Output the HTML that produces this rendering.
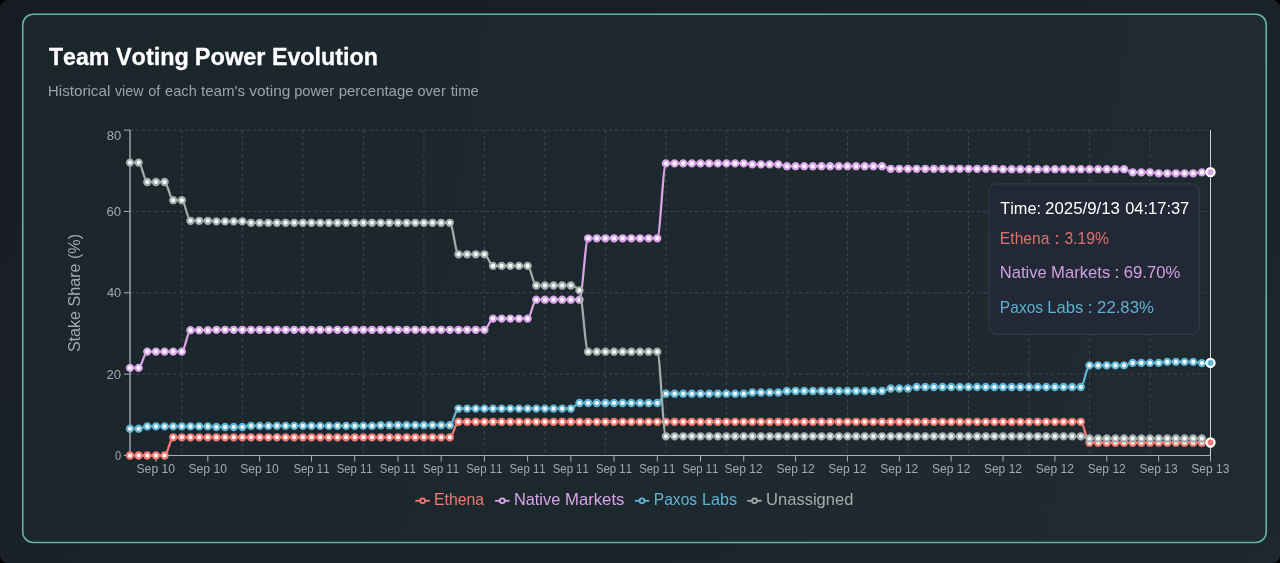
<!DOCTYPE html>
<html lang="en"><head><meta charset="utf-8"><title>Team Voting Power Evolution</title>
<style>html,body{margin:0;padding:0;background:#181f25;overflow:hidden}body{width:1280px;height:563px;position:relative;font-family:"Liberation Sans",sans-serif}svg{display:block;position:absolute;left:0;top:0;will-change:transform}text{font-family:"Liberation Sans",sans-serif;font-kerning:none}</style></head><body>
<svg width="1280" height="563" viewBox="0 0 1280 563">
<defs><linearGradient id="gOut" gradientUnits="userSpaceOnUse" x1="0" y1="0" x2="516" y2="965"><stop offset="0" stop-color="#171c22"/><stop offset="1" stop-color="#1d272e"/></linearGradient><linearGradient id="gCard" gradientUnits="userSpaceOnUse" x1="22" y1="0" x2="1267" y2="200"><stop offset="0" stop-color="#1b262b"/><stop offset="1" stop-color="#1f2b31"/></linearGradient></defs>
<rect x="0" y="0" width="1280" height="563" fill="url(#gOut)"/>
<path d="M0,0H1280V563H0Z M7.5,0H1272.5A7.5,7.5,0,0,1,1280,7.5V555.5A7.5,7.5,0,0,1,1272.5,563H7.5A7.5,7.5,0,0,1,0,555.5V7.5A7.5,7.5,0,0,1,7.5,0Z" fill="#000" fill-rule="evenodd"/>
<rect x="22.75" y="14.25" width="1243.5" height="528.25" rx="10.5" ry="10.5" fill="url(#gCard)" stroke="#60b5a5" stroke-width="1.6"/>
<g font-size="24.6" font-weight="700" fill="#ffffff" stroke="#ffffff" stroke-width="0.3"><text x="48.94" y="65" textLength="60.44" lengthAdjust="spacingAndGlyphs">Team</text><text x="115.99" y="65" textLength="72.83" lengthAdjust="spacingAndGlyphs">Voting</text><text x="194.77" y="65" textLength="70.73" lengthAdjust="spacingAndGlyphs">Power</text><text x="271.89" y="65" textLength="106.00" lengthAdjust="spacingAndGlyphs">Evolution</text></g>
<g font-size="14.4" fill="#9aa3ad"><text x="47.80" y="95.5" textLength="62.46" lengthAdjust="spacingAndGlyphs">Historical</text><text x="115.00" y="95.5" textLength="28.41" lengthAdjust="spacingAndGlyphs">view</text><text x="148.24" y="95.5" textLength="12.09" lengthAdjust="spacingAndGlyphs">of</text><text x="165.03" y="95.5" textLength="31.77" lengthAdjust="spacingAndGlyphs">each</text><text x="201.02" y="95.5" textLength="43.97" lengthAdjust="spacingAndGlyphs">team&#39;s</text><text x="249.20" y="95.5" textLength="41.15" lengthAdjust="spacingAndGlyphs">voting</text><text x="294.21" y="95.5" textLength="39.89" lengthAdjust="spacingAndGlyphs">power</text><text x="338.68" y="95.5" textLength="74.93" lengthAdjust="spacingAndGlyphs">percentage</text><text x="417.54" y="95.5" textLength="28.25" lengthAdjust="spacingAndGlyphs">over</text><text x="450.72" y="95.5" textLength="28.19" lengthAdjust="spacingAndGlyphs">time</text></g>
<g stroke="#3e4756" stroke-width="1" stroke-dasharray="3.07 3.07" fill="none">
<line x1="130.0" y1="455.50" x2="1210.5" y2="455.50"/>
<line x1="130.0" y1="374.15" x2="1210.5" y2="374.15"/>
<line x1="130.0" y1="292.80" x2="1210.5" y2="292.80"/>
<line x1="130.0" y1="211.45" x2="1210.5" y2="211.45"/>
<line x1="130.0" y1="130.10" x2="1210.5" y2="130.10"/>
<line x1="181.86" y1="130.1" x2="181.86" y2="455.5"/>
<line x1="242.37" y1="130.1" x2="242.37" y2="455.5"/>
<line x1="302.88" y1="130.1" x2="302.88" y2="455.5"/>
<line x1="363.39" y1="130.1" x2="363.39" y2="455.5"/>
<line x1="423.90" y1="130.1" x2="423.90" y2="455.5"/>
<line x1="484.40" y1="130.1" x2="484.40" y2="455.5"/>
<line x1="544.91" y1="130.1" x2="544.91" y2="455.5"/>
<line x1="605.42" y1="130.1" x2="605.42" y2="455.5"/>
<line x1="665.93" y1="130.1" x2="665.93" y2="455.5"/>
<line x1="726.44" y1="130.1" x2="726.44" y2="455.5"/>
<line x1="786.94" y1="130.1" x2="786.94" y2="455.5"/>
<line x1="847.45" y1="130.1" x2="847.45" y2="455.5"/>
<line x1="907.96" y1="130.1" x2="907.96" y2="455.5"/>
<line x1="968.47" y1="130.1" x2="968.47" y2="455.5"/>
<line x1="1028.98" y1="130.1" x2="1028.98" y2="455.5"/>
<line x1="1089.48" y1="130.1" x2="1089.48" y2="455.5"/>
<line x1="1149.99" y1="130.1" x2="1149.99" y2="455.5"/>
<line x1="1210.50" y1="130.1" x2="1210.50" y2="455.5"/>
</g>
<g stroke="#a9b0b4" stroke-width="1" fill="none">
<line x1="130.0" y1="455.5" x2="1210.5" y2="455.5"/>
<line x1="130.0" y1="130.1" x2="130.0" y2="455.5" stroke-width="1.35"/>
<line x1="155.93" y1="455.5" x2="155.93" y2="461.65"/>
<line x1="207.80" y1="455.5" x2="207.80" y2="461.65"/>
<line x1="259.66" y1="455.5" x2="259.66" y2="461.65"/>
<line x1="311.52" y1="455.5" x2="311.52" y2="461.65"/>
<line x1="354.74" y1="455.5" x2="354.74" y2="461.65"/>
<line x1="397.96" y1="455.5" x2="397.96" y2="461.65"/>
<line x1="441.18" y1="455.5" x2="441.18" y2="461.65"/>
<line x1="484.40" y1="455.5" x2="484.40" y2="461.65"/>
<line x1="527.62" y1="455.5" x2="527.62" y2="461.65"/>
<line x1="570.84" y1="455.5" x2="570.84" y2="461.65"/>
<line x1="614.06" y1="455.5" x2="614.06" y2="461.65"/>
<line x1="657.28" y1="455.5" x2="657.28" y2="461.65"/>
<line x1="700.50" y1="455.5" x2="700.50" y2="461.65"/>
<line x1="743.72" y1="455.5" x2="743.72" y2="461.65"/>
<line x1="795.59" y1="455.5" x2="795.59" y2="461.65"/>
<line x1="847.45" y1="455.5" x2="847.45" y2="461.65"/>
<line x1="899.32" y1="455.5" x2="899.32" y2="461.65"/>
<line x1="951.18" y1="455.5" x2="951.18" y2="461.65"/>
<line x1="1003.04" y1="455.5" x2="1003.04" y2="461.65"/>
<line x1="1054.91" y1="455.5" x2="1054.91" y2="461.65"/>
<line x1="1106.77" y1="455.5" x2="1106.77" y2="461.65"/>
<line x1="1158.64" y1="455.5" x2="1158.64" y2="461.65"/>
<line x1="1210.50" y1="455.5" x2="1210.50" y2="461.65"/>
<line x1="123.85" y1="455.50" x2="130.0" y2="455.50"/>
<line x1="123.85" y1="374.15" x2="130.0" y2="374.15"/>
<line x1="123.85" y1="292.80" x2="130.0" y2="292.80"/>
<line x1="123.85" y1="211.45" x2="130.0" y2="211.45"/>
<line x1="123.85" y1="130.10" x2="130.0" y2="130.10"/>
</g>
<g font-size="12.3" fill="#a2a9ae">
<text x="136.53" y="472.8" textLength="38.53" lengthAdjust="spacingAndGlyphs">Sep 10</text>
<text x="188.39" y="472.8" textLength="38.53" lengthAdjust="spacingAndGlyphs">Sep 10</text>
<text x="240.26" y="472.8" textLength="38.53" lengthAdjust="spacingAndGlyphs">Sep 10</text>
<text x="293.41" y="472.8" textLength="36.07" lengthAdjust="spacingAndGlyphs">Sep 11</text>
<text x="336.63" y="472.8" textLength="36.07" lengthAdjust="spacingAndGlyphs">Sep 11</text>
<text x="379.85" y="472.8" textLength="36.07" lengthAdjust="spacingAndGlyphs">Sep 11</text>
<text x="423.07" y="472.8" textLength="36.07" lengthAdjust="spacingAndGlyphs">Sep 11</text>
<text x="466.29" y="472.8" textLength="36.07" lengthAdjust="spacingAndGlyphs">Sep 11</text>
<text x="509.51" y="472.8" textLength="36.07" lengthAdjust="spacingAndGlyphs">Sep 11</text>
<text x="552.73" y="472.8" textLength="36.07" lengthAdjust="spacingAndGlyphs">Sep 11</text>
<text x="595.95" y="472.8" textLength="36.07" lengthAdjust="spacingAndGlyphs">Sep 11</text>
<text x="639.17" y="472.8" textLength="36.07" lengthAdjust="spacingAndGlyphs">Sep 11</text>
<text x="682.39" y="472.8" textLength="36.07" lengthAdjust="spacingAndGlyphs">Sep 11</text>
<text x="724.58" y="472.8" textLength="38.15" lengthAdjust="spacingAndGlyphs">Sep 12</text>
<text x="776.44" y="472.8" textLength="38.15" lengthAdjust="spacingAndGlyphs">Sep 12</text>
<text x="828.31" y="472.8" textLength="38.15" lengthAdjust="spacingAndGlyphs">Sep 12</text>
<text x="880.17" y="472.8" textLength="38.15" lengthAdjust="spacingAndGlyphs">Sep 12</text>
<text x="932.03" y="472.8" textLength="38.15" lengthAdjust="spacingAndGlyphs">Sep 12</text>
<text x="983.90" y="472.8" textLength="38.15" lengthAdjust="spacingAndGlyphs">Sep 12</text>
<text x="1035.76" y="472.8" textLength="38.15" lengthAdjust="spacingAndGlyphs">Sep 12</text>
<text x="1087.63" y="472.8" textLength="38.15" lengthAdjust="spacingAndGlyphs">Sep 12</text>
<text x="1139.44" y="472.8" textLength="38.18" lengthAdjust="spacingAndGlyphs">Sep 13</text>
<text x="1191.30" y="472.8" textLength="38.18" lengthAdjust="spacingAndGlyphs">Sep 13</text>
<text x="114.92" y="459.90" textLength="6.17" lengthAdjust="spacingAndGlyphs">0</text>
<text x="106.59" y="378.55" textLength="14.57" lengthAdjust="spacingAndGlyphs">20</text>
<text x="106.96" y="297.20" textLength="14.19" lengthAdjust="spacingAndGlyphs">40</text>
<text x="106.58" y="215.85" textLength="14.58" lengthAdjust="spacingAndGlyphs">60</text>
<text x="106.68" y="139.50" textLength="14.47" lengthAdjust="spacingAndGlyphs">80</text>
</g>
<text transform="translate(79.7,293.2) rotate(-90)" x="-58.93" y="0" font-size="16.4" fill="#a2a9ae" textLength="118.13" lengthAdjust="spacingAndGlyphs">Stake Share (%)</text>
<line x1="1210.5" y1="130.1" x2="1210.5" y2="455.5" stroke="#cfd2d4" stroke-width="1"/>
<path d="M130.00,455.50L138.64,455.50L147.29,455.50L155.93,455.50L164.58,455.50C167.46,455.50,170.34,437.30,173.22,437.30L181.86,437.30L190.51,437.30L199.15,437.30L207.80,437.30L216.44,437.30L225.08,437.30L233.73,437.30L242.37,437.30L251.02,437.30L259.66,437.30L268.30,437.30L276.95,437.30L285.59,437.30L294.24,437.30L302.88,437.30L311.52,437.30L320.17,437.30L328.81,437.30L337.46,437.30L346.10,437.30L354.74,437.30L363.39,437.30L372.03,437.30L380.68,437.30L389.32,437.30L397.96,437.30L406.61,437.30L415.25,437.30L423.90,437.30L432.54,437.30L441.18,437.30L449.83,437.30C452.71,437.30,455.59,421.80,458.47,421.80L467.12,421.80L475.76,421.80L484.40,421.80L493.05,421.80L501.69,421.80L510.34,421.80L518.98,421.80L527.62,421.80L536.27,421.80L544.91,421.80L553.56,421.80L562.20,421.80L570.84,421.80L579.49,421.80L588.13,421.80L596.78,421.80L605.42,421.80L614.06,421.80L622.71,421.80L631.35,421.80L640.00,421.80L648.64,421.80L657.28,421.80L665.93,421.80L674.57,421.80L683.22,421.80L691.86,421.80L700.50,421.80L709.15,421.80L717.79,421.80L726.44,421.80L735.08,421.80L743.72,421.80L752.37,421.80L761.01,421.80L769.66,421.80L778.30,421.80L786.94,421.80L795.59,421.80L804.23,421.80L812.88,421.80L821.52,421.80L830.16,421.80L838.81,421.80L847.45,421.80L856.10,421.80L864.74,421.80L873.38,421.80L882.03,421.80L890.67,421.80L899.32,421.80L907.96,421.80L916.60,421.80L925.25,421.80L933.89,421.80L942.54,421.80L951.18,421.80L959.82,421.80L968.47,421.80L977.11,421.80L985.76,421.80L994.40,421.80L1003.04,421.80L1011.69,421.80L1020.33,421.80L1028.98,421.80L1037.62,421.80L1046.26,421.80L1054.91,421.80L1063.55,421.80L1072.20,421.80L1080.84,421.80C1083.72,421.80,1086.60,442.70,1089.48,442.70L1098.13,442.70L1106.77,442.70L1115.42,442.70L1124.06,442.70L1132.70,442.70L1141.35,442.70L1149.99,442.70L1158.64,442.70L1167.28,442.70L1175.92,442.70L1184.57,442.70L1193.21,442.70L1201.86,442.70C1204.74,442.70,1207.62,442.60,1210.50,442.50" fill="none" stroke="#f27b74" stroke-width="2.25" stroke-linejoin="round"/>
<g fill="#fff" stroke="#f27b74" stroke-width="2.1">
<circle cx="130.00" cy="455.50" r="3.12"/>
<circle cx="138.64" cy="455.50" r="3.12"/>
<circle cx="147.29" cy="455.50" r="3.12"/>
<circle cx="155.93" cy="455.50" r="3.12"/>
<circle cx="164.58" cy="455.50" r="3.12"/>
<circle cx="173.22" cy="437.30" r="3.12"/>
<circle cx="181.86" cy="437.30" r="3.12"/>
<circle cx="190.51" cy="437.30" r="3.12"/>
<circle cx="199.15" cy="437.30" r="3.12"/>
<circle cx="207.80" cy="437.30" r="3.12"/>
<circle cx="216.44" cy="437.30" r="3.12"/>
<circle cx="225.08" cy="437.30" r="3.12"/>
<circle cx="233.73" cy="437.30" r="3.12"/>
<circle cx="242.37" cy="437.30" r="3.12"/>
<circle cx="251.02" cy="437.30" r="3.12"/>
<circle cx="259.66" cy="437.30" r="3.12"/>
<circle cx="268.30" cy="437.30" r="3.12"/>
<circle cx="276.95" cy="437.30" r="3.12"/>
<circle cx="285.59" cy="437.30" r="3.12"/>
<circle cx="294.24" cy="437.30" r="3.12"/>
<circle cx="302.88" cy="437.30" r="3.12"/>
<circle cx="311.52" cy="437.30" r="3.12"/>
<circle cx="320.17" cy="437.30" r="3.12"/>
<circle cx="328.81" cy="437.30" r="3.12"/>
<circle cx="337.46" cy="437.30" r="3.12"/>
<circle cx="346.10" cy="437.30" r="3.12"/>
<circle cx="354.74" cy="437.30" r="3.12"/>
<circle cx="363.39" cy="437.30" r="3.12"/>
<circle cx="372.03" cy="437.30" r="3.12"/>
<circle cx="380.68" cy="437.30" r="3.12"/>
<circle cx="389.32" cy="437.30" r="3.12"/>
<circle cx="397.96" cy="437.30" r="3.12"/>
<circle cx="406.61" cy="437.30" r="3.12"/>
<circle cx="415.25" cy="437.30" r="3.12"/>
<circle cx="423.90" cy="437.30" r="3.12"/>
<circle cx="432.54" cy="437.30" r="3.12"/>
<circle cx="441.18" cy="437.30" r="3.12"/>
<circle cx="449.83" cy="437.30" r="3.12"/>
<circle cx="458.47" cy="421.80" r="3.12"/>
<circle cx="467.12" cy="421.80" r="3.12"/>
<circle cx="475.76" cy="421.80" r="3.12"/>
<circle cx="484.40" cy="421.80" r="3.12"/>
<circle cx="493.05" cy="421.80" r="3.12"/>
<circle cx="501.69" cy="421.80" r="3.12"/>
<circle cx="510.34" cy="421.80" r="3.12"/>
<circle cx="518.98" cy="421.80" r="3.12"/>
<circle cx="527.62" cy="421.80" r="3.12"/>
<circle cx="536.27" cy="421.80" r="3.12"/>
<circle cx="544.91" cy="421.80" r="3.12"/>
<circle cx="553.56" cy="421.80" r="3.12"/>
<circle cx="562.20" cy="421.80" r="3.12"/>
<circle cx="570.84" cy="421.80" r="3.12"/>
<circle cx="579.49" cy="421.80" r="3.12"/>
<circle cx="588.13" cy="421.80" r="3.12"/>
<circle cx="596.78" cy="421.80" r="3.12"/>
<circle cx="605.42" cy="421.80" r="3.12"/>
<circle cx="614.06" cy="421.80" r="3.12"/>
<circle cx="622.71" cy="421.80" r="3.12"/>
<circle cx="631.35" cy="421.80" r="3.12"/>
<circle cx="640.00" cy="421.80" r="3.12"/>
<circle cx="648.64" cy="421.80" r="3.12"/>
<circle cx="657.28" cy="421.80" r="3.12"/>
<circle cx="665.93" cy="421.80" r="3.12"/>
<circle cx="674.57" cy="421.80" r="3.12"/>
<circle cx="683.22" cy="421.80" r="3.12"/>
<circle cx="691.86" cy="421.80" r="3.12"/>
<circle cx="700.50" cy="421.80" r="3.12"/>
<circle cx="709.15" cy="421.80" r="3.12"/>
<circle cx="717.79" cy="421.80" r="3.12"/>
<circle cx="726.44" cy="421.80" r="3.12"/>
<circle cx="735.08" cy="421.80" r="3.12"/>
<circle cx="743.72" cy="421.80" r="3.12"/>
<circle cx="752.37" cy="421.80" r="3.12"/>
<circle cx="761.01" cy="421.80" r="3.12"/>
<circle cx="769.66" cy="421.80" r="3.12"/>
<circle cx="778.30" cy="421.80" r="3.12"/>
<circle cx="786.94" cy="421.80" r="3.12"/>
<circle cx="795.59" cy="421.80" r="3.12"/>
<circle cx="804.23" cy="421.80" r="3.12"/>
<circle cx="812.88" cy="421.80" r="3.12"/>
<circle cx="821.52" cy="421.80" r="3.12"/>
<circle cx="830.16" cy="421.80" r="3.12"/>
<circle cx="838.81" cy="421.80" r="3.12"/>
<circle cx="847.45" cy="421.80" r="3.12"/>
<circle cx="856.10" cy="421.80" r="3.12"/>
<circle cx="864.74" cy="421.80" r="3.12"/>
<circle cx="873.38" cy="421.80" r="3.12"/>
<circle cx="882.03" cy="421.80" r="3.12"/>
<circle cx="890.67" cy="421.80" r="3.12"/>
<circle cx="899.32" cy="421.80" r="3.12"/>
<circle cx="907.96" cy="421.80" r="3.12"/>
<circle cx="916.60" cy="421.80" r="3.12"/>
<circle cx="925.25" cy="421.80" r="3.12"/>
<circle cx="933.89" cy="421.80" r="3.12"/>
<circle cx="942.54" cy="421.80" r="3.12"/>
<circle cx="951.18" cy="421.80" r="3.12"/>
<circle cx="959.82" cy="421.80" r="3.12"/>
<circle cx="968.47" cy="421.80" r="3.12"/>
<circle cx="977.11" cy="421.80" r="3.12"/>
<circle cx="985.76" cy="421.80" r="3.12"/>
<circle cx="994.40" cy="421.80" r="3.12"/>
<circle cx="1003.04" cy="421.80" r="3.12"/>
<circle cx="1011.69" cy="421.80" r="3.12"/>
<circle cx="1020.33" cy="421.80" r="3.12"/>
<circle cx="1028.98" cy="421.80" r="3.12"/>
<circle cx="1037.62" cy="421.80" r="3.12"/>
<circle cx="1046.26" cy="421.80" r="3.12"/>
<circle cx="1054.91" cy="421.80" r="3.12"/>
<circle cx="1063.55" cy="421.80" r="3.12"/>
<circle cx="1072.20" cy="421.80" r="3.12"/>
<circle cx="1080.84" cy="421.80" r="3.12"/>
<circle cx="1089.48" cy="442.70" r="3.12"/>
<circle cx="1098.13" cy="442.70" r="3.12"/>
<circle cx="1106.77" cy="442.70" r="3.12"/>
<circle cx="1115.42" cy="442.70" r="3.12"/>
<circle cx="1124.06" cy="442.70" r="3.12"/>
<circle cx="1132.70" cy="442.70" r="3.12"/>
<circle cx="1141.35" cy="442.70" r="3.12"/>
<circle cx="1149.99" cy="442.70" r="3.12"/>
<circle cx="1158.64" cy="442.70" r="3.12"/>
<circle cx="1167.28" cy="442.70" r="3.12"/>
<circle cx="1175.92" cy="442.70" r="3.12"/>
<circle cx="1184.57" cy="442.70" r="3.12"/>
<circle cx="1193.21" cy="442.70" r="3.12"/>
<circle cx="1201.86" cy="442.70" r="3.12"/>
<circle cx="1210.50" cy="442.50" r="3.12"/>
</g>
<path d="M130.00,367.90L138.64,367.90C141.53,367.90,144.41,351.60,147.29,351.60L155.93,351.60L164.58,351.60L173.22,351.60L181.86,351.60C184.75,351.60,187.63,330.20,190.51,330.20L199.15,330.20L207.80,330.20C210.68,330.20,213.56,329.80,216.44,329.80L225.08,329.80L233.73,329.80L242.37,329.80L251.02,329.80L259.66,329.80L268.30,329.80L276.95,329.80L285.59,329.80L294.24,329.80L302.88,329.80L311.52,329.80L320.17,329.80L328.81,329.80L337.46,329.80L346.10,329.80L354.74,329.80L363.39,329.80L372.03,329.80L380.68,329.80L389.32,329.80L397.96,329.80L406.61,329.80L415.25,329.80L423.90,329.80L432.54,329.80L441.18,329.80L449.83,329.80L458.47,329.80L467.12,329.80L475.76,329.80L484.40,329.80C487.29,329.80,490.17,318.60,493.05,318.60L501.69,318.60L510.34,318.60L518.98,318.60L527.62,318.60C530.51,318.60,533.39,299.70,536.27,299.70L544.91,299.70L553.56,299.70L562.20,299.70L570.84,299.70L579.49,299.70C582.37,299.70,585.25,238.30,588.13,238.30L596.78,238.30L605.42,238.30L614.06,238.30L622.71,238.30L631.35,238.30L640.00,238.30L648.64,238.30L657.28,238.30C660.17,238.30,663.05,163.40,665.93,163.40L674.57,163.40L683.22,163.40L691.86,163.40L700.50,163.40L709.15,163.40L717.79,163.40L726.44,163.40L735.08,163.40L743.72,163.40C746.61,163.40,749.49,164.40,752.37,164.40L761.01,164.40L769.66,164.40L778.30,164.40C781.18,164.40,784.06,166.20,786.94,166.20L795.59,166.20L804.23,166.20L812.88,166.20L821.52,166.20L830.16,166.20L838.81,166.20L847.45,166.20L856.10,166.20L864.74,166.20L873.38,166.20L882.03,166.20C884.91,166.20,887.79,168.80,890.67,168.80L899.32,168.80L907.96,168.80L916.60,168.80L925.25,168.80L933.89,168.80L942.54,168.80L951.18,168.80L959.82,168.80L968.47,168.80L977.11,168.80L985.76,168.80L994.40,168.80C997.28,168.80,1000.16,169.20,1003.04,169.20L1011.69,169.20L1020.33,169.20L1028.98,169.20L1037.62,169.20L1046.26,169.20L1054.91,169.20L1063.55,169.20L1072.20,169.20L1080.84,169.20L1089.48,169.20L1098.13,169.20L1106.77,169.20L1115.42,169.20L1124.06,169.20C1126.94,169.20,1129.82,172.30,1132.70,172.30L1141.35,172.30L1149.99,172.30C1152.87,172.30,1155.75,173.30,1158.64,173.30L1167.28,173.30L1175.92,173.30L1184.57,173.30L1193.21,173.30C1196.09,173.30,1198.97,172.53,1201.86,172.40C1204.74,172.27,1207.62,172.23,1210.50,172.20" fill="none" stroke="#d8a4e6" stroke-width="2.25" stroke-linejoin="round"/>
<g fill="#fff" stroke="#d8a4e6" stroke-width="2.1">
<circle cx="130.00" cy="367.90" r="3.12"/>
<circle cx="138.64" cy="367.90" r="3.12"/>
<circle cx="147.29" cy="351.60" r="3.12"/>
<circle cx="155.93" cy="351.60" r="3.12"/>
<circle cx="164.58" cy="351.60" r="3.12"/>
<circle cx="173.22" cy="351.60" r="3.12"/>
<circle cx="181.86" cy="351.60" r="3.12"/>
<circle cx="190.51" cy="330.20" r="3.12"/>
<circle cx="199.15" cy="330.20" r="3.12"/>
<circle cx="207.80" cy="330.20" r="3.12"/>
<circle cx="216.44" cy="329.80" r="3.12"/>
<circle cx="225.08" cy="329.80" r="3.12"/>
<circle cx="233.73" cy="329.80" r="3.12"/>
<circle cx="242.37" cy="329.80" r="3.12"/>
<circle cx="251.02" cy="329.80" r="3.12"/>
<circle cx="259.66" cy="329.80" r="3.12"/>
<circle cx="268.30" cy="329.80" r="3.12"/>
<circle cx="276.95" cy="329.80" r="3.12"/>
<circle cx="285.59" cy="329.80" r="3.12"/>
<circle cx="294.24" cy="329.80" r="3.12"/>
<circle cx="302.88" cy="329.80" r="3.12"/>
<circle cx="311.52" cy="329.80" r="3.12"/>
<circle cx="320.17" cy="329.80" r="3.12"/>
<circle cx="328.81" cy="329.80" r="3.12"/>
<circle cx="337.46" cy="329.80" r="3.12"/>
<circle cx="346.10" cy="329.80" r="3.12"/>
<circle cx="354.74" cy="329.80" r="3.12"/>
<circle cx="363.39" cy="329.80" r="3.12"/>
<circle cx="372.03" cy="329.80" r="3.12"/>
<circle cx="380.68" cy="329.80" r="3.12"/>
<circle cx="389.32" cy="329.80" r="3.12"/>
<circle cx="397.96" cy="329.80" r="3.12"/>
<circle cx="406.61" cy="329.80" r="3.12"/>
<circle cx="415.25" cy="329.80" r="3.12"/>
<circle cx="423.90" cy="329.80" r="3.12"/>
<circle cx="432.54" cy="329.80" r="3.12"/>
<circle cx="441.18" cy="329.80" r="3.12"/>
<circle cx="449.83" cy="329.80" r="3.12"/>
<circle cx="458.47" cy="329.80" r="3.12"/>
<circle cx="467.12" cy="329.80" r="3.12"/>
<circle cx="475.76" cy="329.80" r="3.12"/>
<circle cx="484.40" cy="329.80" r="3.12"/>
<circle cx="493.05" cy="318.60" r="3.12"/>
<circle cx="501.69" cy="318.60" r="3.12"/>
<circle cx="510.34" cy="318.60" r="3.12"/>
<circle cx="518.98" cy="318.60" r="3.12"/>
<circle cx="527.62" cy="318.60" r="3.12"/>
<circle cx="536.27" cy="299.70" r="3.12"/>
<circle cx="544.91" cy="299.70" r="3.12"/>
<circle cx="553.56" cy="299.70" r="3.12"/>
<circle cx="562.20" cy="299.70" r="3.12"/>
<circle cx="570.84" cy="299.70" r="3.12"/>
<circle cx="579.49" cy="299.70" r="3.12"/>
<circle cx="588.13" cy="238.30" r="3.12"/>
<circle cx="596.78" cy="238.30" r="3.12"/>
<circle cx="605.42" cy="238.30" r="3.12"/>
<circle cx="614.06" cy="238.30" r="3.12"/>
<circle cx="622.71" cy="238.30" r="3.12"/>
<circle cx="631.35" cy="238.30" r="3.12"/>
<circle cx="640.00" cy="238.30" r="3.12"/>
<circle cx="648.64" cy="238.30" r="3.12"/>
<circle cx="657.28" cy="238.30" r="3.12"/>
<circle cx="665.93" cy="163.40" r="3.12"/>
<circle cx="674.57" cy="163.40" r="3.12"/>
<circle cx="683.22" cy="163.40" r="3.12"/>
<circle cx="691.86" cy="163.40" r="3.12"/>
<circle cx="700.50" cy="163.40" r="3.12"/>
<circle cx="709.15" cy="163.40" r="3.12"/>
<circle cx="717.79" cy="163.40" r="3.12"/>
<circle cx="726.44" cy="163.40" r="3.12"/>
<circle cx="735.08" cy="163.40" r="3.12"/>
<circle cx="743.72" cy="163.40" r="3.12"/>
<circle cx="752.37" cy="164.40" r="3.12"/>
<circle cx="761.01" cy="164.40" r="3.12"/>
<circle cx="769.66" cy="164.40" r="3.12"/>
<circle cx="778.30" cy="164.40" r="3.12"/>
<circle cx="786.94" cy="166.20" r="3.12"/>
<circle cx="795.59" cy="166.20" r="3.12"/>
<circle cx="804.23" cy="166.20" r="3.12"/>
<circle cx="812.88" cy="166.20" r="3.12"/>
<circle cx="821.52" cy="166.20" r="3.12"/>
<circle cx="830.16" cy="166.20" r="3.12"/>
<circle cx="838.81" cy="166.20" r="3.12"/>
<circle cx="847.45" cy="166.20" r="3.12"/>
<circle cx="856.10" cy="166.20" r="3.12"/>
<circle cx="864.74" cy="166.20" r="3.12"/>
<circle cx="873.38" cy="166.20" r="3.12"/>
<circle cx="882.03" cy="166.20" r="3.12"/>
<circle cx="890.67" cy="168.80" r="3.12"/>
<circle cx="899.32" cy="168.80" r="3.12"/>
<circle cx="907.96" cy="168.80" r="3.12"/>
<circle cx="916.60" cy="168.80" r="3.12"/>
<circle cx="925.25" cy="168.80" r="3.12"/>
<circle cx="933.89" cy="168.80" r="3.12"/>
<circle cx="942.54" cy="168.80" r="3.12"/>
<circle cx="951.18" cy="168.80" r="3.12"/>
<circle cx="959.82" cy="168.80" r="3.12"/>
<circle cx="968.47" cy="168.80" r="3.12"/>
<circle cx="977.11" cy="168.80" r="3.12"/>
<circle cx="985.76" cy="168.80" r="3.12"/>
<circle cx="994.40" cy="168.80" r="3.12"/>
<circle cx="1003.04" cy="169.20" r="3.12"/>
<circle cx="1011.69" cy="169.20" r="3.12"/>
<circle cx="1020.33" cy="169.20" r="3.12"/>
<circle cx="1028.98" cy="169.20" r="3.12"/>
<circle cx="1037.62" cy="169.20" r="3.12"/>
<circle cx="1046.26" cy="169.20" r="3.12"/>
<circle cx="1054.91" cy="169.20" r="3.12"/>
<circle cx="1063.55" cy="169.20" r="3.12"/>
<circle cx="1072.20" cy="169.20" r="3.12"/>
<circle cx="1080.84" cy="169.20" r="3.12"/>
<circle cx="1089.48" cy="169.20" r="3.12"/>
<circle cx="1098.13" cy="169.20" r="3.12"/>
<circle cx="1106.77" cy="169.20" r="3.12"/>
<circle cx="1115.42" cy="169.20" r="3.12"/>
<circle cx="1124.06" cy="169.20" r="3.12"/>
<circle cx="1132.70" cy="172.30" r="3.12"/>
<circle cx="1141.35" cy="172.30" r="3.12"/>
<circle cx="1149.99" cy="172.30" r="3.12"/>
<circle cx="1158.64" cy="173.30" r="3.12"/>
<circle cx="1167.28" cy="173.30" r="3.12"/>
<circle cx="1175.92" cy="173.30" r="3.12"/>
<circle cx="1184.57" cy="173.30" r="3.12"/>
<circle cx="1193.21" cy="173.30" r="3.12"/>
<circle cx="1201.86" cy="172.40" r="3.12"/>
<circle cx="1210.50" cy="172.20" r="3.12"/>
</g>
<path d="M130.00,428.70L138.64,428.70C141.53,428.70,144.41,426.40,147.29,426.40L155.93,426.40L164.58,426.40L173.22,426.40L181.86,426.40L190.51,426.40L199.15,426.40L207.80,426.40C210.68,426.40,213.56,427.00,216.44,427.00L225.08,427.00L233.73,427.00L242.37,427.00C245.25,427.00,248.13,425.90,251.02,425.90L259.66,425.90L268.30,425.90L276.95,425.90L285.59,425.90L294.24,425.90L302.88,425.90L311.52,425.90L320.17,425.90L328.81,425.90L337.46,425.90L346.10,425.90L354.74,425.90L363.39,425.90L372.03,425.90C374.91,425.90,377.79,425.20,380.68,425.20L389.32,425.20L397.96,425.20L406.61,425.20L415.25,425.20L423.90,425.20L432.54,425.20L441.18,425.20L449.83,425.20C452.71,425.20,455.59,408.60,458.47,408.60L467.12,408.60L475.76,408.60L484.40,408.60L493.05,408.60L501.69,408.60L510.34,408.60L518.98,408.60L527.62,408.60L536.27,408.60L544.91,408.60L553.56,408.60L562.20,408.60L570.84,408.60C573.73,408.60,576.61,403.00,579.49,403.00L588.13,403.00L596.78,403.00L605.42,403.00L614.06,403.00L622.71,403.00L631.35,403.00L640.00,403.00L648.64,403.00L657.28,403.00C660.17,403.00,663.05,393.70,665.93,393.70L674.57,393.70L683.22,393.70L691.86,393.70L700.50,393.70L709.15,393.70L717.79,393.70L726.44,393.70L735.08,393.70L743.72,393.70C746.61,393.70,749.49,392.50,752.37,392.50L761.01,392.50L769.66,392.50L778.30,392.50C781.18,392.50,784.06,391.00,786.94,391.00L795.59,391.00L804.23,391.00L812.88,391.00L821.52,391.00L830.16,391.00L838.81,391.00L847.45,391.00L856.10,391.00L864.74,391.00L873.38,391.00L882.03,391.00C884.91,391.00,887.79,388.50,890.67,388.50L899.32,388.50L907.96,388.50C910.84,388.50,913.72,387.00,916.60,387.00L925.25,387.00L933.89,387.00L942.54,387.00L951.18,387.00L959.82,387.00L968.47,387.00L977.11,387.00L985.76,387.00L994.40,387.00L1003.04,387.00L1011.69,387.00L1020.33,387.00L1028.98,387.00L1037.62,387.00L1046.26,387.00L1054.91,387.00L1063.55,387.00L1072.20,387.00L1080.84,387.00C1083.72,387.00,1086.60,365.40,1089.48,365.40L1098.13,365.40L1106.77,365.40L1115.42,365.40L1124.06,365.40C1126.94,365.40,1129.82,362.90,1132.70,362.90L1141.35,362.90L1149.99,362.90L1158.64,362.90C1161.52,362.90,1164.40,361.90,1167.28,361.90L1175.92,361.90L1184.57,361.90L1193.21,361.90C1196.09,361.90,1198.97,363.10,1201.86,363.10C1204.74,363.10,1207.62,363.00,1210.50,362.90" fill="none" stroke="#61b4d3" stroke-width="2.25" stroke-linejoin="round"/>
<g fill="#fff" stroke="#61b4d3" stroke-width="2.1">
<circle cx="130.00" cy="428.70" r="3.12"/>
<circle cx="138.64" cy="428.70" r="3.12"/>
<circle cx="147.29" cy="426.40" r="3.12"/>
<circle cx="155.93" cy="426.40" r="3.12"/>
<circle cx="164.58" cy="426.40" r="3.12"/>
<circle cx="173.22" cy="426.40" r="3.12"/>
<circle cx="181.86" cy="426.40" r="3.12"/>
<circle cx="190.51" cy="426.40" r="3.12"/>
<circle cx="199.15" cy="426.40" r="3.12"/>
<circle cx="207.80" cy="426.40" r="3.12"/>
<circle cx="216.44" cy="427.00" r="3.12"/>
<circle cx="225.08" cy="427.00" r="3.12"/>
<circle cx="233.73" cy="427.00" r="3.12"/>
<circle cx="242.37" cy="427.00" r="3.12"/>
<circle cx="251.02" cy="425.90" r="3.12"/>
<circle cx="259.66" cy="425.90" r="3.12"/>
<circle cx="268.30" cy="425.90" r="3.12"/>
<circle cx="276.95" cy="425.90" r="3.12"/>
<circle cx="285.59" cy="425.90" r="3.12"/>
<circle cx="294.24" cy="425.90" r="3.12"/>
<circle cx="302.88" cy="425.90" r="3.12"/>
<circle cx="311.52" cy="425.90" r="3.12"/>
<circle cx="320.17" cy="425.90" r="3.12"/>
<circle cx="328.81" cy="425.90" r="3.12"/>
<circle cx="337.46" cy="425.90" r="3.12"/>
<circle cx="346.10" cy="425.90" r="3.12"/>
<circle cx="354.74" cy="425.90" r="3.12"/>
<circle cx="363.39" cy="425.90" r="3.12"/>
<circle cx="372.03" cy="425.90" r="3.12"/>
<circle cx="380.68" cy="425.20" r="3.12"/>
<circle cx="389.32" cy="425.20" r="3.12"/>
<circle cx="397.96" cy="425.20" r="3.12"/>
<circle cx="406.61" cy="425.20" r="3.12"/>
<circle cx="415.25" cy="425.20" r="3.12"/>
<circle cx="423.90" cy="425.20" r="3.12"/>
<circle cx="432.54" cy="425.20" r="3.12"/>
<circle cx="441.18" cy="425.20" r="3.12"/>
<circle cx="449.83" cy="425.20" r="3.12"/>
<circle cx="458.47" cy="408.60" r="3.12"/>
<circle cx="467.12" cy="408.60" r="3.12"/>
<circle cx="475.76" cy="408.60" r="3.12"/>
<circle cx="484.40" cy="408.60" r="3.12"/>
<circle cx="493.05" cy="408.60" r="3.12"/>
<circle cx="501.69" cy="408.60" r="3.12"/>
<circle cx="510.34" cy="408.60" r="3.12"/>
<circle cx="518.98" cy="408.60" r="3.12"/>
<circle cx="527.62" cy="408.60" r="3.12"/>
<circle cx="536.27" cy="408.60" r="3.12"/>
<circle cx="544.91" cy="408.60" r="3.12"/>
<circle cx="553.56" cy="408.60" r="3.12"/>
<circle cx="562.20" cy="408.60" r="3.12"/>
<circle cx="570.84" cy="408.60" r="3.12"/>
<circle cx="579.49" cy="403.00" r="3.12"/>
<circle cx="588.13" cy="403.00" r="3.12"/>
<circle cx="596.78" cy="403.00" r="3.12"/>
<circle cx="605.42" cy="403.00" r="3.12"/>
<circle cx="614.06" cy="403.00" r="3.12"/>
<circle cx="622.71" cy="403.00" r="3.12"/>
<circle cx="631.35" cy="403.00" r="3.12"/>
<circle cx="640.00" cy="403.00" r="3.12"/>
<circle cx="648.64" cy="403.00" r="3.12"/>
<circle cx="657.28" cy="403.00" r="3.12"/>
<circle cx="665.93" cy="393.70" r="3.12"/>
<circle cx="674.57" cy="393.70" r="3.12"/>
<circle cx="683.22" cy="393.70" r="3.12"/>
<circle cx="691.86" cy="393.70" r="3.12"/>
<circle cx="700.50" cy="393.70" r="3.12"/>
<circle cx="709.15" cy="393.70" r="3.12"/>
<circle cx="717.79" cy="393.70" r="3.12"/>
<circle cx="726.44" cy="393.70" r="3.12"/>
<circle cx="735.08" cy="393.70" r="3.12"/>
<circle cx="743.72" cy="393.70" r="3.12"/>
<circle cx="752.37" cy="392.50" r="3.12"/>
<circle cx="761.01" cy="392.50" r="3.12"/>
<circle cx="769.66" cy="392.50" r="3.12"/>
<circle cx="778.30" cy="392.50" r="3.12"/>
<circle cx="786.94" cy="391.00" r="3.12"/>
<circle cx="795.59" cy="391.00" r="3.12"/>
<circle cx="804.23" cy="391.00" r="3.12"/>
<circle cx="812.88" cy="391.00" r="3.12"/>
<circle cx="821.52" cy="391.00" r="3.12"/>
<circle cx="830.16" cy="391.00" r="3.12"/>
<circle cx="838.81" cy="391.00" r="3.12"/>
<circle cx="847.45" cy="391.00" r="3.12"/>
<circle cx="856.10" cy="391.00" r="3.12"/>
<circle cx="864.74" cy="391.00" r="3.12"/>
<circle cx="873.38" cy="391.00" r="3.12"/>
<circle cx="882.03" cy="391.00" r="3.12"/>
<circle cx="890.67" cy="388.50" r="3.12"/>
<circle cx="899.32" cy="388.50" r="3.12"/>
<circle cx="907.96" cy="388.50" r="3.12"/>
<circle cx="916.60" cy="387.00" r="3.12"/>
<circle cx="925.25" cy="387.00" r="3.12"/>
<circle cx="933.89" cy="387.00" r="3.12"/>
<circle cx="942.54" cy="387.00" r="3.12"/>
<circle cx="951.18" cy="387.00" r="3.12"/>
<circle cx="959.82" cy="387.00" r="3.12"/>
<circle cx="968.47" cy="387.00" r="3.12"/>
<circle cx="977.11" cy="387.00" r="3.12"/>
<circle cx="985.76" cy="387.00" r="3.12"/>
<circle cx="994.40" cy="387.00" r="3.12"/>
<circle cx="1003.04" cy="387.00" r="3.12"/>
<circle cx="1011.69" cy="387.00" r="3.12"/>
<circle cx="1020.33" cy="387.00" r="3.12"/>
<circle cx="1028.98" cy="387.00" r="3.12"/>
<circle cx="1037.62" cy="387.00" r="3.12"/>
<circle cx="1046.26" cy="387.00" r="3.12"/>
<circle cx="1054.91" cy="387.00" r="3.12"/>
<circle cx="1063.55" cy="387.00" r="3.12"/>
<circle cx="1072.20" cy="387.00" r="3.12"/>
<circle cx="1080.84" cy="387.00" r="3.12"/>
<circle cx="1089.48" cy="365.40" r="3.12"/>
<circle cx="1098.13" cy="365.40" r="3.12"/>
<circle cx="1106.77" cy="365.40" r="3.12"/>
<circle cx="1115.42" cy="365.40" r="3.12"/>
<circle cx="1124.06" cy="365.40" r="3.12"/>
<circle cx="1132.70" cy="362.90" r="3.12"/>
<circle cx="1141.35" cy="362.90" r="3.12"/>
<circle cx="1149.99" cy="362.90" r="3.12"/>
<circle cx="1158.64" cy="362.90" r="3.12"/>
<circle cx="1167.28" cy="361.90" r="3.12"/>
<circle cx="1175.92" cy="361.90" r="3.12"/>
<circle cx="1184.57" cy="361.90" r="3.12"/>
<circle cx="1193.21" cy="361.90" r="3.12"/>
<circle cx="1201.86" cy="363.10" r="3.12"/>
<circle cx="1210.50" cy="362.90" r="3.12"/>
</g>
<path d="M130.00,162.60L138.64,162.60C141.53,162.60,144.41,182.00,147.29,182.00L155.93,182.00L164.58,182.00C167.46,182.00,170.34,200.20,173.22,200.20L181.86,200.20C184.75,200.20,187.63,220.80,190.51,220.80L199.15,220.80L207.80,220.80C210.68,220.80,213.56,221.40,216.44,221.40L225.08,221.40L233.73,221.40L242.37,221.40C245.25,221.40,248.13,222.80,251.02,222.80L259.66,222.80L268.30,222.80L276.95,222.80L285.59,222.80L294.24,222.80L302.88,222.80L311.52,222.80L320.17,222.80L328.81,222.80L337.46,222.80L346.10,222.80L354.74,222.80L363.39,222.80L372.03,222.80L380.68,222.80L389.32,222.80L397.96,222.80L406.61,222.80L415.25,222.80L423.90,222.80L432.54,222.80L441.18,222.80L449.83,222.80C452.71,222.80,455.59,254.30,458.47,254.30L467.12,254.30L475.76,254.30L484.40,254.30C487.29,254.30,490.17,265.90,493.05,265.90L501.69,265.90L510.34,265.90L518.98,265.90L527.62,265.90C530.51,265.90,533.39,285.50,536.27,285.50L544.91,285.50L553.56,285.50L562.20,285.50L570.84,285.50C573.73,285.50,576.61,287.13,579.49,290.40C582.37,293.67,585.25,351.70,588.13,351.70L596.78,351.70L605.42,351.70L614.06,351.70L622.71,351.70L631.35,351.70L640.00,351.70L648.64,351.70L657.28,351.70C660.17,351.70,663.05,436.30,665.93,436.30L674.57,436.30L683.22,436.30L691.86,436.30L700.50,436.30L709.15,436.30L717.79,436.30L726.44,436.30L735.08,436.30L743.72,436.30L752.37,436.30L761.01,436.30L769.66,436.30L778.30,436.30L786.94,436.30L795.59,436.30L804.23,436.30L812.88,436.30L821.52,436.30L830.16,436.30L838.81,436.30L847.45,436.30L856.10,436.30L864.74,436.30L873.38,436.30L882.03,436.30L890.67,436.30L899.32,436.30L907.96,436.30L916.60,436.30L925.25,436.30L933.89,436.30L942.54,436.30L951.18,436.30L959.82,436.30L968.47,436.30L977.11,436.30L985.76,436.30L994.40,436.30L1003.04,436.30L1011.69,436.30L1020.33,436.30L1028.98,436.30L1037.62,436.30L1046.26,436.30L1054.91,436.30L1063.55,436.30L1072.20,436.30L1080.84,436.30C1083.72,436.30,1086.60,438.50,1089.48,438.50L1098.13,438.50L1106.77,438.50L1115.42,438.50L1124.06,438.50L1132.70,438.50L1141.35,438.50L1149.99,438.50L1158.64,438.50L1167.28,438.50L1175.92,438.50L1184.57,438.50L1193.21,438.50L1201.86,438.50" fill="none" stroke="#a2adab" stroke-width="2.25" stroke-linejoin="round"/>
<g fill="#fff" stroke="#a2adab" stroke-width="2.1">
<circle cx="130.00" cy="162.60" r="3.12"/>
<circle cx="138.64" cy="162.60" r="3.12"/>
<circle cx="147.29" cy="182.00" r="3.12"/>
<circle cx="155.93" cy="182.00" r="3.12"/>
<circle cx="164.58" cy="182.00" r="3.12"/>
<circle cx="173.22" cy="200.20" r="3.12"/>
<circle cx="181.86" cy="200.20" r="3.12"/>
<circle cx="190.51" cy="220.80" r="3.12"/>
<circle cx="199.15" cy="220.80" r="3.12"/>
<circle cx="207.80" cy="220.80" r="3.12"/>
<circle cx="216.44" cy="221.40" r="3.12"/>
<circle cx="225.08" cy="221.40" r="3.12"/>
<circle cx="233.73" cy="221.40" r="3.12"/>
<circle cx="242.37" cy="221.40" r="3.12"/>
<circle cx="251.02" cy="222.80" r="3.12"/>
<circle cx="259.66" cy="222.80" r="3.12"/>
<circle cx="268.30" cy="222.80" r="3.12"/>
<circle cx="276.95" cy="222.80" r="3.12"/>
<circle cx="285.59" cy="222.80" r="3.12"/>
<circle cx="294.24" cy="222.80" r="3.12"/>
<circle cx="302.88" cy="222.80" r="3.12"/>
<circle cx="311.52" cy="222.80" r="3.12"/>
<circle cx="320.17" cy="222.80" r="3.12"/>
<circle cx="328.81" cy="222.80" r="3.12"/>
<circle cx="337.46" cy="222.80" r="3.12"/>
<circle cx="346.10" cy="222.80" r="3.12"/>
<circle cx="354.74" cy="222.80" r="3.12"/>
<circle cx="363.39" cy="222.80" r="3.12"/>
<circle cx="372.03" cy="222.80" r="3.12"/>
<circle cx="380.68" cy="222.80" r="3.12"/>
<circle cx="389.32" cy="222.80" r="3.12"/>
<circle cx="397.96" cy="222.80" r="3.12"/>
<circle cx="406.61" cy="222.80" r="3.12"/>
<circle cx="415.25" cy="222.80" r="3.12"/>
<circle cx="423.90" cy="222.80" r="3.12"/>
<circle cx="432.54" cy="222.80" r="3.12"/>
<circle cx="441.18" cy="222.80" r="3.12"/>
<circle cx="449.83" cy="222.80" r="3.12"/>
<circle cx="458.47" cy="254.30" r="3.12"/>
<circle cx="467.12" cy="254.30" r="3.12"/>
<circle cx="475.76" cy="254.30" r="3.12"/>
<circle cx="484.40" cy="254.30" r="3.12"/>
<circle cx="493.05" cy="265.90" r="3.12"/>
<circle cx="501.69" cy="265.90" r="3.12"/>
<circle cx="510.34" cy="265.90" r="3.12"/>
<circle cx="518.98" cy="265.90" r="3.12"/>
<circle cx="527.62" cy="265.90" r="3.12"/>
<circle cx="536.27" cy="285.50" r="3.12"/>
<circle cx="544.91" cy="285.50" r="3.12"/>
<circle cx="553.56" cy="285.50" r="3.12"/>
<circle cx="562.20" cy="285.50" r="3.12"/>
<circle cx="570.84" cy="285.50" r="3.12"/>
<circle cx="579.49" cy="290.40" r="3.12"/>
<circle cx="588.13" cy="351.70" r="3.12"/>
<circle cx="596.78" cy="351.70" r="3.12"/>
<circle cx="605.42" cy="351.70" r="3.12"/>
<circle cx="614.06" cy="351.70" r="3.12"/>
<circle cx="622.71" cy="351.70" r="3.12"/>
<circle cx="631.35" cy="351.70" r="3.12"/>
<circle cx="640.00" cy="351.70" r="3.12"/>
<circle cx="648.64" cy="351.70" r="3.12"/>
<circle cx="657.28" cy="351.70" r="3.12"/>
<circle cx="665.93" cy="436.30" r="3.12"/>
<circle cx="674.57" cy="436.30" r="3.12"/>
<circle cx="683.22" cy="436.30" r="3.12"/>
<circle cx="691.86" cy="436.30" r="3.12"/>
<circle cx="700.50" cy="436.30" r="3.12"/>
<circle cx="709.15" cy="436.30" r="3.12"/>
<circle cx="717.79" cy="436.30" r="3.12"/>
<circle cx="726.44" cy="436.30" r="3.12"/>
<circle cx="735.08" cy="436.30" r="3.12"/>
<circle cx="743.72" cy="436.30" r="3.12"/>
<circle cx="752.37" cy="436.30" r="3.12"/>
<circle cx="761.01" cy="436.30" r="3.12"/>
<circle cx="769.66" cy="436.30" r="3.12"/>
<circle cx="778.30" cy="436.30" r="3.12"/>
<circle cx="786.94" cy="436.30" r="3.12"/>
<circle cx="795.59" cy="436.30" r="3.12"/>
<circle cx="804.23" cy="436.30" r="3.12"/>
<circle cx="812.88" cy="436.30" r="3.12"/>
<circle cx="821.52" cy="436.30" r="3.12"/>
<circle cx="830.16" cy="436.30" r="3.12"/>
<circle cx="838.81" cy="436.30" r="3.12"/>
<circle cx="847.45" cy="436.30" r="3.12"/>
<circle cx="856.10" cy="436.30" r="3.12"/>
<circle cx="864.74" cy="436.30" r="3.12"/>
<circle cx="873.38" cy="436.30" r="3.12"/>
<circle cx="882.03" cy="436.30" r="3.12"/>
<circle cx="890.67" cy="436.30" r="3.12"/>
<circle cx="899.32" cy="436.30" r="3.12"/>
<circle cx="907.96" cy="436.30" r="3.12"/>
<circle cx="916.60" cy="436.30" r="3.12"/>
<circle cx="925.25" cy="436.30" r="3.12"/>
<circle cx="933.89" cy="436.30" r="3.12"/>
<circle cx="942.54" cy="436.30" r="3.12"/>
<circle cx="951.18" cy="436.30" r="3.12"/>
<circle cx="959.82" cy="436.30" r="3.12"/>
<circle cx="968.47" cy="436.30" r="3.12"/>
<circle cx="977.11" cy="436.30" r="3.12"/>
<circle cx="985.76" cy="436.30" r="3.12"/>
<circle cx="994.40" cy="436.30" r="3.12"/>
<circle cx="1003.04" cy="436.30" r="3.12"/>
<circle cx="1011.69" cy="436.30" r="3.12"/>
<circle cx="1020.33" cy="436.30" r="3.12"/>
<circle cx="1028.98" cy="436.30" r="3.12"/>
<circle cx="1037.62" cy="436.30" r="3.12"/>
<circle cx="1046.26" cy="436.30" r="3.12"/>
<circle cx="1054.91" cy="436.30" r="3.12"/>
<circle cx="1063.55" cy="436.30" r="3.12"/>
<circle cx="1072.20" cy="436.30" r="3.12"/>
<circle cx="1080.84" cy="436.30" r="3.12"/>
<circle cx="1089.48" cy="438.50" r="3.12"/>
<circle cx="1098.13" cy="438.50" r="3.12"/>
<circle cx="1106.77" cy="438.50" r="3.12"/>
<circle cx="1115.42" cy="438.50" r="3.12"/>
<circle cx="1124.06" cy="438.50" r="3.12"/>
<circle cx="1132.70" cy="438.50" r="3.12"/>
<circle cx="1141.35" cy="438.50" r="3.12"/>
<circle cx="1149.99" cy="438.50" r="3.12"/>
<circle cx="1158.64" cy="438.50" r="3.12"/>
<circle cx="1167.28" cy="438.50" r="3.12"/>
<circle cx="1175.92" cy="438.50" r="3.12"/>
<circle cx="1184.57" cy="438.50" r="3.12"/>
<circle cx="1193.21" cy="438.50" r="3.12"/>
<circle cx="1201.86" cy="438.50" r="3.12"/>
</g>
<circle cx="1210.5" cy="442.50" r="4.05" fill="#f27b74" stroke="#ffffff" stroke-width="2.2"/>
<circle cx="1210.5" cy="172.20" r="4.05" fill="#d8a4e6" stroke="#ffffff" stroke-width="2.2"/>
<circle cx="1210.5" cy="362.90" r="4.05" fill="#61b4d3" stroke="#ffffff" stroke-width="2.2"/>
<g stroke="#f27b74" stroke-width="1.8" fill="none"><line x1="415.4" y1="500.8" x2="429.79999999999995" y2="500.8"/><circle cx="422.59999999999997" cy="500.8" r="2.400" fill="#1d282d"/></g><g font-size="16.4" fill="#f27b74"><text x="433.95" y="505.2" textLength="50.20" lengthAdjust="spacingAndGlyphs">Ethena</text></g>
<g stroke="#d8a4e6" stroke-width="1.8" fill="none"><line x1="495.1" y1="500.8" x2="509.5" y2="500.8"/><circle cx="502.3" cy="500.8" r="2.400" fill="#1d282d"/></g><g font-size="16.4" fill="#d8a4e6"><text x="513.91" y="505.2" textLength="46.37" lengthAdjust="spacingAndGlyphs">Native</text><text x="565.08" y="505.2" textLength="59.27" lengthAdjust="spacingAndGlyphs">Markets</text></g>
<g stroke="#61b4d3" stroke-width="1.8" fill="none"><line x1="634.8" y1="500.8" x2="649.1999999999999" y2="500.8"/><circle cx="642.0" cy="500.8" r="2.400" fill="#1d282d"/></g><g font-size="16.4" fill="#61b4d3"><text x="653.77" y="505.2" textLength="43.34" lengthAdjust="spacingAndGlyphs">Paxos</text><text x="701.92" y="505.2" textLength="35.11" lengthAdjust="spacingAndGlyphs">Labs</text></g>
<g stroke="#a2adab" stroke-width="1.8" fill="none"><line x1="747.3" y1="500.8" x2="761.6999999999999" y2="500.8"/><circle cx="754.5" cy="500.8" r="2.400" fill="#1d282d"/></g><g font-size="16.4" fill="#a2adab"><text x="766.07" y="505.2" textLength="87.34" lengthAdjust="spacingAndGlyphs">Unassigned</text></g>
<rect x="989" y="183.9" width="210.2" height="150.4" rx="8" ry="8" fill="#222836" stroke="#353d4c" stroke-width="1"/>
<g font-size="16.4" fill="#ffffff"><text x="1000.28" y="213.8" textLength="40.75" lengthAdjust="spacingAndGlyphs">Time:</text><text x="1045.10" y="213.8" textLength="74.78" lengthAdjust="spacingAndGlyphs">2025/9/13</text><text x="1125.21" y="213.8" textLength="64.07" lengthAdjust="spacingAndGlyphs">04:17:37</text></g>
<g font-size="16.4" fill="#e0706b"><text x="999.87" y="243.9" textLength="49.58" lengthAdjust="spacingAndGlyphs">Ethena</text><text x="1054.04" y="243.9" textLength="6.13" lengthAdjust="spacingAndGlyphs">:</text><text x="1064.55" y="243.9" textLength="44.46" lengthAdjust="spacingAndGlyphs">3.19%</text></g>
<g font-size="16.4" fill="#cfa0dd"><text x="999.80" y="278.0" textLength="46.79" lengthAdjust="spacingAndGlyphs">Native</text><text x="1051.09" y="278.0" textLength="59.17" lengthAdjust="spacingAndGlyphs">Markets</text><text x="1114.03" y="278.0" textLength="5.84" lengthAdjust="spacingAndGlyphs">:</text><text x="1123.80" y="278.0" textLength="56.64" lengthAdjust="spacingAndGlyphs">69.70%</text></g>
<g font-size="16.4" fill="#5fb1cf"><text x="999.87" y="312.6" textLength="43.24" lengthAdjust="spacingAndGlyphs">Paxos</text><text x="1047.29" y="312.6" textLength="36.07" lengthAdjust="spacingAndGlyphs">Labs</text><text x="1087.33" y="312.6" textLength="5.84" lengthAdjust="spacingAndGlyphs">:</text><text x="1097.11" y="312.6" textLength="56.74" lengthAdjust="spacingAndGlyphs">22.83%</text></g>
</svg></body></html>
